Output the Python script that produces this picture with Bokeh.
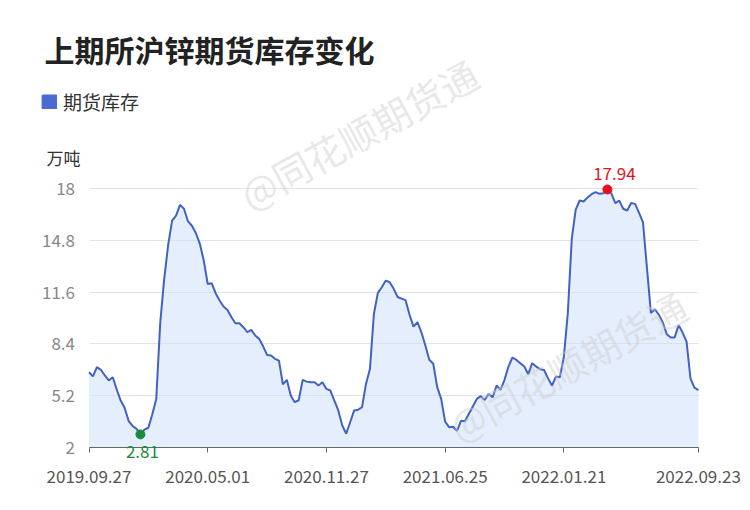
from bokeh.plotting import figure
from bokeh.models import Range1d, FixedTicker, Label, Legend, LegendItem, ColumnDataSource
from bokeh.embed import file_html
from bokeh.resources import INLINE

title_text = "上期所沪锌期货库存变化"
series_name = "期货库存"
unit_text = "万吨"
watermark_text = "@同花顺期货通"

# weekly SHFE zinc futures inventory (10k tonnes)
inventory = [
    6.65, 6.39, 6.96, 6.8, 6.45, 6.14, 6.34, 5.6, 4.9, 4.45,
    3.65, 3.33, 3.15, 2.81, 3.1, 3.22, 4.05, 5.0, 9.7, 12.4,
    14.5, 16.02, 16.33, 16.99, 16.75, 15.98, 15.7, 15.25, 14.6, 13.55,
    12.1, 12.15, 11.53, 11.08, 10.71, 10.5, 10.05, 9.68, 9.68, 9.43,
    9.12, 9.27, 8.92, 8.71, 8.25, 7.72, 7.68, 7.48, 7.37, 5.9,
    6.18, 5.2, 4.8, 4.92, 6.18, 6.07, 6.03, 6.03, 5.83, 6.03,
    5.62, 5.52, 4.9, 4.29, 3.36, 2.85, 3.56, 4.29, 4.33, 4.49,
    5.93, 6.86, 10.26, 11.55, 11.9, 12.31, 12.21, 11.8, 11.3, 11.2,
    11.1, 10.2, 9.47, 9.74, 9.12, 8.3, 7.42, 7.17, 5.73, 5.0,
    3.6, 3.25, 3.28, 3.03, 3.65, 3.62, 4.08, 4.53, 5.0, 5.17,
    4.94, 5.31, 5.1, 5.83, 5.56, 6.18, 7.0, 7.56, 7.41, 7.21,
    7.0, 6.53, 7.21, 7.0, 6.84, 6.79, 6.27, 5.83, 6.38, 6.34,
    7.6, 10.3, 14.9, 16.7, 17.26, 17.2, 17.45, 17.65, 17.78, 17.67,
    17.7, 17.94, 17.7, 17.1, 17.25, 16.75, 16.64, 17.1, 17.05, 16.5,
    15.9, 13.1, 10.3, 10.54, 10.2, 9.72, 9.0, 8.8, 8.8, 9.56,
    9.1, 8.55, 6.25, 5.7, 5.55,
]
x_tick_index = [0, 30, 60, 90, 120, 154]
x_tick_labels = ["2019.09.27", "2020.05.01", "2020.11.27", "2021.06.25", "2022.01.21", "2022.09.23"]
y_ticks = [2, 5.2, 8.4, 11.6, 14.8, 18]
y_tick_labels = ["2", "5.2", "8.4", "11.6", "14.8", "18"]

FONT = "Noto Sans CJK SC"
LINE_COLOR = "#4262c2"
AREA_COLOR = "#cfe0fa"
LEGEND_COLOR = "#4a6bd1"
MAX_COLOR = "#e8101c"
MIN_COLOR = "#1b8a3a"

# layout (canvas pixels): the plotting rectangle inside a full-canvas frame
W, H = 750, 510
PL, PR, PT, PB = 88.5, 697.9, 188.0, 447.0

weeks = list(range(len(inventory)))
x0, x1 = weeks[0], weeks[-1]
y0, y1 = y_ticks[0], y_ticks[-1]
sx = (PR - PL) / (x1 - x0)
sy = (PB - PT) / (y1 - y0)
x_range = Range1d(x0 - PL / sx, x1 + (W - PR) / sx)
y_range = Range1d(y0 - (H - PB) / sy, y0 + PB / sy)

src = ColumnDataSource(dict(x=weeks, y=inventory, base=[y0] * len(inventory)))

p = figure(width=W, height=H, output_backend="svg", toolbar_location=None,
           x_range=x_range, y_range=y_range, min_border=0)
p.outline_line_color = None
p.background_fill_color = "white"
p.border_fill_color = "white"
p.title.visible = False

# grid limited to the data span
try:
    p.ygrid.cross_bounds = (x0, x1)
    p.ygrid.ticker = FixedTicker(ticks=y_ticks)
    p.ygrid.grid_line_color = "#e3e3e3"
except AttributeError:
    p.ygrid.visible = False
    p.segment(x0=x0, x1=x1, y0=y_ticks, y1=y_ticks, line_color="#e3e3e3", line_width=1)
p.xgrid.visible = False

p.varea(x="x", y1="base", y2="y", source=src, fill_color=AREA_COLOR, fill_alpha=0.55)
p.line(x="x", y="y", source=src, line_color=LINE_COLOR, line_width=2)

imax = max(weeks, key=lambda i: inventory[i])
imin = min(weeks, key=lambda i: inventory[i])
p.scatter([imax], [inventory[imax]], size=9, color=MAX_COLOR)
p.scatter([imin], [inventory[imin]], size=9, color=MIN_COLOR)
p.add_layout(Label(x=imax, y=inventory[imax], text=f"{inventory[imax]:g}", text_align="center",
                   text_baseline="middle", x_offset=7, y_offset=16, text_color=MAX_COLOR,
                   text_font=FONT, text_font_size="17px"))
p.add_layout(Label(x=imin, y=inventory[imin], text=f"{inventory[imin]:g}", text_align="center",
                   text_baseline="middle", x_offset=2, y_offset=-17, text_color=MIN_COLOR,
                   text_font=FONT, text_font_size="17px"))

# axes placed inside the frame
p.xaxis.fixed_location = y0
p.xaxis.bounds = (x0, x1)
p.xaxis.ticker = FixedTicker(ticks=x_tick_index)
p.xaxis.major_label_overrides = dict(zip(x_tick_index, x_tick_labels))
p.xaxis.axis_line_color = "#666666"
p.xaxis.major_tick_line_color = "#666666"
p.xaxis.major_tick_out = 5
p.xaxis.major_tick_in = 0
p.xaxis.minor_tick_line_color = None
p.xaxis.major_label_text_font = FONT
p.xaxis.major_label_text_font_size = "17px"
p.xaxis.major_label_text_color = "#555555"
p.xaxis.major_label_standoff = 17

p.yaxis.fixed_location = x0
p.yaxis.ticker = FixedTicker(ticks=y_ticks)
p.yaxis.major_label_overrides = dict(zip(y_ticks, y_tick_labels))
p.yaxis.axis_line_color = None
p.yaxis.major_tick_line_color = None
p.yaxis.minor_tick_line_color = None
p.yaxis.major_label_text_font = FONT
p.yaxis.major_label_text_font_size = "17px"
p.yaxis.major_label_text_color = "#888888"
p.yaxis.major_label_standoff = 8

# title / unit / watermark (screen units from frame bottom-left)
p.add_layout(Label(x=44, y=H - 48, x_units="screen", y_units="screen", text=title_text,
                   text_font=FONT, text_font_size="30px", text_font_style="bold",
                   text_color="#222222", text_baseline="middle", text_align="left"))
p.add_layout(Label(x=80, y=H - 157, x_units="screen", y_units="screen", text=unit_text,
                   text_font=FONT, text_font_size="17px", text_color="#333333",
                   text_baseline="middle", text_align="right"))
for wx, wy in [(358, 133), (567, 365)]:
    p.add_layout(Label(x=wx, y=H - wy, x_units="screen", y_units="screen", text=watermark_text,
                       text_font=FONT, text_font_size="38px", text_color="#cccccc",
                       text_alpha=0.45, angle=0.5, text_align="center", text_baseline="middle"))

# legend swatch: a renderer with one undrawable (NaN) box so the legend draws its glyph
nan = float("nan")
swatch = p.quad(left=[nan], right=[nan], top=[nan], bottom=[nan], fill_color=LEGEND_COLOR,
                line_color=LEGEND_COLOR, line_width=3, line_join="round")
legend = Legend(items=[LegendItem(label=series_name, renderers=[swatch])],
                location=(41, H - 115), orientation="horizontal",
                border_line_color=None, background_fill_alpha=0, padding=0, margin=0,
                glyph_width=16, glyph_height=15, label_standoff=6,
                label_text_font=FONT, label_text_font_size="19px", label_text_color="#333333")
p.add_layout(legend, "center")

open("out.html", "w").write(file_html(p, INLINE))
